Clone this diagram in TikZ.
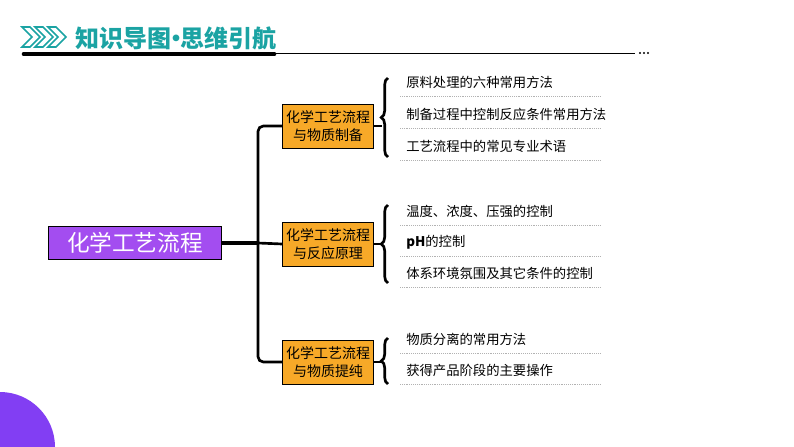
\documentclass[tikz,border=0pt]{standalone}
\usepackage{fontspec}
\setmainfont{Noto Sans CJK SC}
\usetikzlibrary{positioning,decorations.pathreplacing}
\definecolor{teal1}{HTML}{1BA3A3}
\definecolor{purp}{HTML}{A34DF0}
\definecolor{orng}{HTML}{F7A928}
\begin{document}
\begin{tikzpicture}[x=0.75pt,y=-0.75pt,
  root/.style={rectangle,draw=black,line width=0.8pt,fill=purp,text=white,minimum width=130pt,minimum height=25pt,font=\fontsize{17}{17}\selectfont,inner sep=2pt},
  branch/.style={rectangle,draw=black,line width=0.6pt,fill=orng,align=center,font=\fontsize{10.5}{13}\selectfont,inner sep=0.5pt,minimum width=68pt,minimum height=33pt},
  item/.style={anchor=west,font=\fontsize{10}{11}\selectfont,inner sep=0pt},
  trunk/.style={line width=2pt,rounded corners=4pt},
  brace/.style={decorate,decoration={brace,amplitude=5pt,mirror},line width=2pt},
  dots/.style={densely dotted,gray!60,line width=0.4pt}]
  \useasboundingbox (0,0) rectangle (794,447);
  % background decoration
  \fill[purp!80!blue] (0,447) circle (55);
  % header
  \foreach \i in {0,1,2} {
    \draw[teal1,line width=1.2pt] (22+\i*13,27) -- (32+\i*13,37) -- (22+\i*13,47) -- (30+\i*13,47) -- (40+\i*13,37) -- (30+\i*13,27) -- cycle;
  }
  \node[anchor=west,text=teal1,font=\fontsize{18}{18}\selectfont\bfseries,inner sep=0pt] (title) at (75,38) {知识导图\kern-0.3em·\kern-0.3em思维引航};
  \draw[line width=3.5pt,line cap=round] (24,54) -- (274,54);
  \draw[line width=0.6pt] (274,53) -- (635,53);
  \foreach \i in {0,1,2} \fill (640+\i*4,53) circle (1.1);
  % nodes
  \node[root] (main) at (135,243) {化学工艺流程};
  \node[branch] (b1) at (328,126) {化学工艺流程\\与物质制备};
  \node[branch] (b2) at (328,244) {化学工艺流程\\与反应原理};
  \node[branch] (b3) at (328,362) {化学工艺流程\\与物质提纯};
  % trunk
  \coordinate (fork) at (258,243);
  \draw[line width=3.5pt] (main.east) -- (fork);
  \draw[trunk] (b1.west) -| (fork) |- (b3.west);
  \draw[line width=2pt] (fork) -- (b2.west);
  % braces and items
  \foreach \b/\top/\bot in {b1/78/157,b2/205/283,b3/338/384} {
    \draw[line width=2pt] (\b.east) -- ++(8,0);
    \draw[brace] (388,\top) -- (388,\bot);
  }
  \foreach \n/\y/\t in {i1/82/原料处理的六种常用方法,i2/114/制备过程中控制反应条件常用方法,i3/146/工艺流程中的常见专业术语,
      i4/211/温度、浓度、压强的控制,i5/242/\textbf{pH}的控制,i6/273/体系环境氛围及其它条件的控制,
      i7/339/物质分离的常用方法,i8/370/获得产品阶段的主要操作} {
    \node[item] (\n) at (406,\y) {\t};
    \draw[dots] (400,\y+14) -- (600,\y+14);
  }
\end{tikzpicture}
\end{document}
